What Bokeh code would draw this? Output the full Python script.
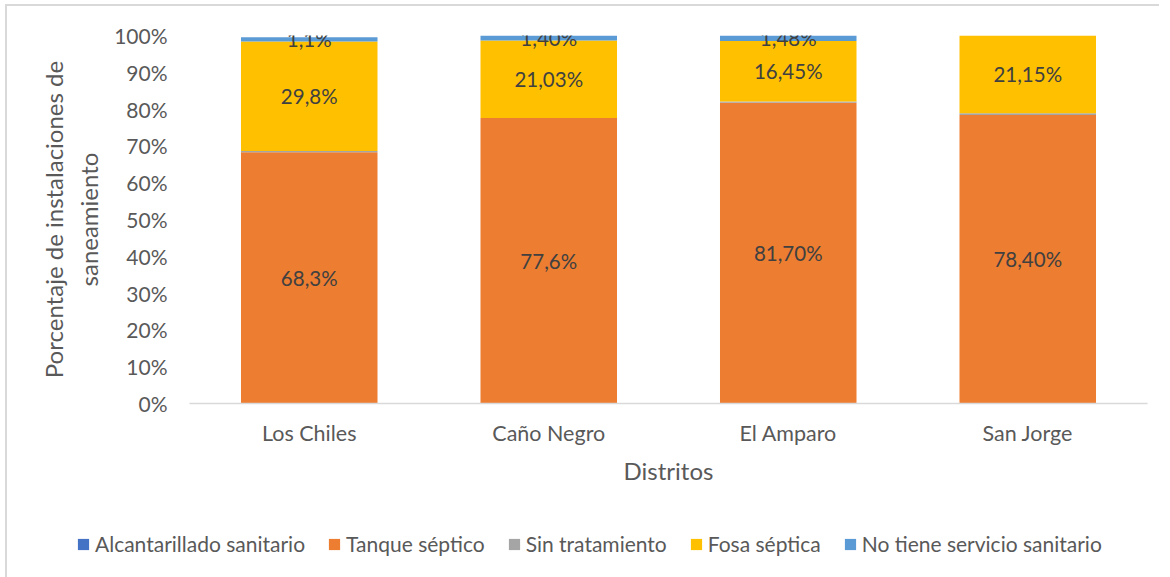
from bokeh.plotting import figure
from bokeh.models import (ColumnDataSource, FactorRange, Range1d, FixedTicker,
                          PrintfTickFormatter, Legend, LegendItem, Column)
from bokeh.core.properties import value
from bokeh.embed import file_html
from bokeh.resources import INLINE
import numpy as np

distritos = ["Los Chiles", "Caño Negro", "El Amparo", "San Jorge"]
series = ["Alcantarillado sanitario", "Tanque séptico", "Sin tratamiento",
          "Fosa séptica", "No tiene servicio sanitario"]
alcantarillado = [0.0, 0.0, 0.0, 0.0]
tanque = [68.3, 77.6, 81.7, 78.4]
sin_tratamiento = [0.3, 0.0, 0.37, 0.45]
fosa = [29.8, 21.03, 16.45, 21.15]
no_tiene = [1.1, 1.40, 1.48, 0.0]
tanque_lbl = ["68,3%", "77,6%", "81,70%", "78,40%"]
fosa_lbl = ["29,8%", "21,03%", "16,45%", "21,15%"]
no_tiene_lbl = ["1,1%", "1,40%", "1,48%", ""]
y_ticks = list(range(0, 101, 10))

colors = ["#4472C4", "#ED7D31", "#A5A5A5", "#FFC000", "#5B9BD5"]
FONT = "Lato"
TXT = "#595959"

keys = ["alc", "tan", "sin", "fos", "no"]
data = dict(x=distritos, alc=alcantarillado, tan=tanque, sin=sin_tratamiento,
            fos=fosa, no=no_tiene)
src = ColumnDataSource(data)

p = figure(x_range=FactorRange(*distritos, range_padding=0),
           y_range=Range1d(0, 100),
           width=1154, height=500, output_backend="svg", toolbar_location=None,
           min_border_left=182, min_border_right=14, min_border_top=29,
           min_border_bottom=103)
p.frame_align = False
p.outline_line_color = None
p.xgrid.grid_line_color = None
p.ygrid.grid_line_color = None

rs = p.vbar_stack(keys, x="x", width=0.57, source=src, color=colors,
                  line_color=None)

# label positions (segment centres)
base_tan = np.array(alcantarillado)
c_tan = base_tan + np.array(tanque) / 2
base_fos = base_tan + np.array(tanque) + np.array(sin_tratamiento)
c_fos = base_fos + np.array(fosa) / 2
base_no = base_fos + np.array(fosa)
c_no = base_no + np.array(no_tiene) / 2

lbl_src = ColumnDataSource(dict(
    x=distritos * 3,
    y=list(c_tan) + list(c_fos) + list(c_no),
    t=tanque_lbl + fosa_lbl + no_tiene_lbl))
p.text(x="x", y="y", text="t", source=lbl_src, text_align="center",
       text_baseline="middle", text_font=value(FONT), text_font_size="20.5px",
       text_color="#404040")

# axes
p.yaxis.ticker = FixedTicker(ticks=y_ticks)
p.yaxis.formatter = PrintfTickFormatter(format="%d%%")
p.yaxis.axis_line_color = None
p.yaxis.major_tick_line_color = None
p.yaxis.minor_tick_line_color = None
p.yaxis.major_label_standoff = 16
p.yaxis.major_label_text_font = FONT
p.yaxis.major_label_text_font_size = "21px"
p.yaxis.major_label_text_color = TXT
p.yaxis.axis_label = "Porcentaje de instalaciones de\nsaneamiento"
p.yaxis.axis_label_text_font = FONT
p.yaxis.axis_label_text_font_size = "24px"
p.yaxis.axis_label_text_font_style = "normal"
p.yaxis.axis_label_text_color = TXT
p.yaxis.axis_label_standoff = 8

p.xaxis.axis_line_color = "#d9d9d9"
p.xaxis.axis_line_width = 1.5
p.xaxis.major_tick_line_color = None
p.xaxis.minor_tick_line_color = None
p.xaxis.major_label_standoff = 10
p.xaxis.major_label_text_font = FONT
p.xaxis.major_label_text_font_size = "21.5px"
p.xaxis.major_label_text_color = TXT
p.xaxis.axis_label = "Distritos"
p.xaxis.axis_label_text_font = FONT
p.xaxis.axis_label_text_font_size = "24px"
p.xaxis.axis_label_text_font_style = "normal"
p.xaxis.axis_label_text_color = TXT
p.xaxis.axis_label_standoff = 7

# legend in its own strip below the chart
lg = figure(width=1154, height=74, output_backend="svg", toolbar_location=None,
            x_range=Range1d(0, 1), y_range=Range1d(0, 1),
            x_axis_location=None, y_axis_location=None,
            min_border_left=0, min_border_right=0, min_border_top=0,
            min_border_bottom=0)
lg.frame_align = False
lg.outline_line_color = None
lg.grid.grid_line_color = None
lg_src = ColumnDataSource(dict(x=[np.nan] * len(series),
                               top=[np.nan] * len(series),
                               color=colors, label=series))
dummy = lg.vbar(x="x", top="top", width=0.5, color="color", line_color=None,
                source=lg_src)
items = [LegendItem(label=s, renderers=[dummy], index=i)
         for i, s in enumerate(series)]
legend = Legend(items=items, orientation="horizontal", location=(69, 24),
                padding=0, margin=0, spacing=22, label_standoff=5,
                glyph_width=14, glyph_height=14,
                label_text_font=FONT, label_text_font_size="21px",
                label_text_color=TXT, border_line_color=None,
                background_fill_alpha=0)
lg.add_layout(legend, "center")

layout = Column(children=[p, lg], spacing=0,
                styles={"margin-left": "7px", "margin-top": "6px",
                        "box-shadow": "-2px -2px 0 0 #d9d9d9"})

open("out.html", "w").write(file_html(layout, INLINE))
